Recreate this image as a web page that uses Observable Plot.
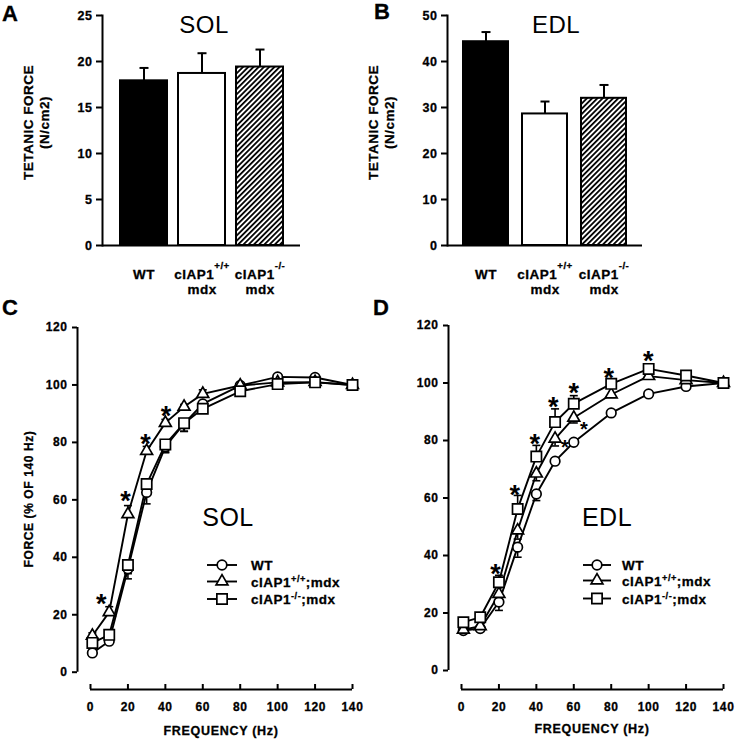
<!DOCTYPE html>
<html>
<head>
<meta charset="utf-8">
<script src="https://cdn.jsdelivr.net/npm/d3@7"></script>
<script src="https://cdn.jsdelivr.net/npm/@observablehq/plot@0.6"></script>
<style>
html, body { margin: 0; padding: 0; background: #fff; }
#fig { position: relative; width: 735px; height: 739px; overflow: hidden; background: #fff; }
#fig g[aria-label$="tick label"] text { letter-spacing: 0.6px; stroke: black; stroke-width: 0.3px; }
#fig text.heavy { stroke: black; stroke-width: 0.3px; }
</style>
</head>
<body>
<div id="fig"></div>
<script>
// ---------------- DATA ----------------
// Panels A & B: tetanic force (N/cm2), mean and upward SEM
const barGroups = ["WT", "cIAP1+/+ mdx", "cIAP1-/- mdx"];
const barLabels = ["WT", "cIAP1^{+/+}\nmdx", "cIAP1^{-/-}\nmdx"];
const solTetanic = [17.9, 18.7, 19.4];
const solTetanicSem = [1.4, 2.2, 1.9];
const edlTetanic = [44.3, 28.6, 32.0];
const edlTetanicSem = [2.1, 2.7, 2.9];
const solBarTicks = [0, 5, 10, 15, 20, 25];
const edlBarTicks = [0, 10, 20, 30, 40, 50];

// Panels C & D: force-frequency (% of 140 Hz)
const freqs = [1, 10, 20, 30, 40, 50, 60, 80, 100, 120, 140];
const freqTicks = [0, 20, 40, 60, 80, 100, 120, 140];
const forceTicks = [0, 20, 40, 60, 80, 100, 120];
const legendItems = ["WT", "cIAP1^{+/+};mdx", "cIAP1^{-/-};mdx"];

const solWT     = [6.7, 10.8, 36.0, 62.6, 78.5, 86.5, 93.4, 99.8, 102.8, 102.6, 100];
const solWTSem  = [0.8, 0.8, 3.5, 4.0, 1.8, 2.6, 1.2, 0.6, 0.6, 0.6, 0];
const solTri    = [12.7, 20.9, 55.0, 77.0, 86.8, 92.4, 96.9, 99.8, 100.9, 101.0, 100];
const solTriSem = [1.0, 1.9, 3.0, 1.6, 1.2, 0.8, 1.4, 0.6, 0.6, 0.6, 0];
const solSq     = [10.2, 13.0, 37.3, 65.5, 79.3, 86.7, 91.7, 97.8, 100.3, 100.9, 100];
const solSqSem  = [1.0, 1.0, 3.0, 2.5, 2.9, 2.9, 1.0, 0.8, 0.6, 0.6, 0];

const edlWT     = [13.9, 14.6, 23.8, 42.9, 61.4, 72.8, 79.4, 89.6, 96.2, 98.8, 100];
const edlWTSem  = [0.8, 1.0, 2.9, 3.5, 2.3, 1.0, 1.0, 0.8, 0.8, 0.6, 0];
const edlTri    = [14.2, 15.4, 26.6, 48.7, 68.5, 80.6, 87.9, 96.0, 102.4, 101.0, 100];
const edlTriSem = [1.0, 1.0, 2.0, 3.0, 2.5, 2.5, 1.8, 1.0, 0.8, 0.6, 0];
const edlSq     = [16.8, 18.5, 30.7, 56.2, 74.4, 86.4, 92.8, 99.7, 104.9, 102.6, 100];
const edlSqSem  = [0.8, 1.0, 2.4, 4.7, 3.9, 4.6, 2.8, 1.0, 1.0, 0.8, 0];

// significance asterisks (frequency, % value)
const solStarF = [5.7, 18.7, 29.4, 40.4];
const solStarV = [26.1, 62.0, 81.7, 91.6];
const edlStarF = [18.2, 28.5, 39.2, 49.0, 60.0, 78.7, 99.8];
const edlStarV = [35.9, 63.2, 81.2, 94.1, 98.8, 104.0, 109.8];
const edlSmallStarF = [55.2, 65.4];
const edlSmallStarV = [79.4, 85.6];

// ---------------- STYLES ----------------
const FONT = "'Liberation Sans', Arial, Helvetica, sans-serif";
const barFills = ["black", "white", "url(#hatch)"];
const seriesSymbols = ["circle", "triangle", "square"];
const seriesRadius = [4.8, 4.4, 5.8];
const plotStyle = `font-family:${FONT};font-weight:bold;color:black;background:transparent;overflow:visible;`;
const capBar = {draw(ctx) { ctx.moveTo(-4.5, 0); ctx.lineTo(4.5, 0); }};
const capCurve = {draw(ctx) { ctx.moveTo(-4, 0); ctx.lineTo(4, 0); }};
const svgNS = "http://www.w3.org/2000/svg";
const fig = document.getElementById("fig");

// hatch pattern definition
fig.insertAdjacentHTML("beforeend",
  `<svg width="0" height="0" style="position:absolute;left:0;top:0">
     <defs>
       <pattern id="hatch" patternUnits="userSpaceOnUse" width="3.7" height="3.7" patternTransform="rotate(45)">
         <rect width="3.7" height="3.7" fill="white"></rect>
         <line x1="0.9" y1="0" x2="0.9" y2="3.7" stroke="black" stroke-width="1.8"></line>
       </pattern>
     </defs>
   </svg>`);

function supify(root, shiftEm, sizePct) {
  const nodes = [];
  const walker = document.createTreeWalker(root, NodeFilter.SHOW_TEXT);
  while (walker.nextNode()) if (walker.currentNode.nodeValue.includes("^{")) nodes.push(walker.currentNode);
  for (const tn of nodes) {
    const parts = tn.nodeValue.split(/\^\{([^}]*)\}/);
    const frag = document.createDocumentFragment();
    parts.forEach((p, i) => {
      if (!p) return;
      if (i % 2 === 0) frag.appendChild(document.createTextNode(p));
      else {
        const t = document.createElementNS(svgNS, "tspan");
        t.setAttribute("style", `font-size:${sizePct}%;baseline-shift:${shiftEm}em`);
        t.textContent = p;
        frag.appendChild(t);
      }
    });
    tn.parentNode.replaceChild(frag, tn);
  }
}

function place(el, left, top) {
  el.style.position = "absolute";
  el.style.left = left + "px";
  el.style.top = top + "px";
  fig.appendChild(el);
}

function barPanel(o) {
  const rows = barGroups.map((g, i) => ({
    group: g, label: barLabels[i], value: o.values[i], top: o.values[i] + o.sems[i], fill: barFills[i]
  }));
  const chart = Plot.plot({
    width: o.width, height: 300,
    marginLeft: o.ml, marginRight: o.mr, marginTop: 15, marginBottom: 55,
    style: plotStyle,
    x: {domain: barGroups, paddingInner: o.padIn, paddingOuter: o.padOut, label: null, axis: null},
    y: {domain: [0, o.yMax], label: null},
    color: {type: "identity"},
    marks: [
      Plot.ruleX(rows, {x: "group", y1: "value", y2: "top", stroke: "black", strokeWidth: 2}),
      Plot.dot(rows, {x: "group", y: "top", symbol: capBar, fill: "none", stroke: "black", strokeWidth: 2}),
      Plot.barY(rows, {x: "group", y: "value", fill: "fill", stroke: "black", strokeWidth: 2}),
      Plot.ruleY([0], {stroke: "black", strokeWidth: 2}),
      Plot.frame({anchor: "left", stroke: "black", strokeWidth: 2}),
      Plot.axisY({ticks: o.ticks, tickSize: 6, tickPadding: 4, strokeWidth: 2, fontSize: 12.5, label: null}),
      // category labels under the bars (x axis tick labels)
      Plot.text(rows, {x: "group", text: "label", frameAnchor: "bottom", lineAnchor: "top",
        lineHeight: 1.15, dy: 22, fontSize: 13.5, fontWeight: "bold", className: "catlabel"})
    ]
  });
  chart.querySelectorAll("text").forEach(t => {
    if (t.closest("g") && t.closest("g").getAttribute("aria-label") === "text") {
      t.classList.add("heavy");
      t.setAttribute("letter-spacing", "0.5");
    }
  });
  supify(chart, 1.0, 72);
  place(chart, o.left, o.top);
}

function curvePanel(o) {
  const rows = [], errs = [];
  o.series.forEach((s, k) => {
    freqs.forEach((f, i) => {
      rows.push({k, f, v: s.values[i]});
      if (s.sems[i] > 0) errs.push({f, v: s.values[i], end: s.values[i] + o.dirs[k] * s.sems[i]});
    });
  });
  const stars = o.starF.map((f, i) => ({f, v: o.starV[i]}));
  const small = (o.smallF || []).map((f, i) => ({f, v: o.smallV[i]}));
  const chart = Plot.plot({
    width: o.width, height: 439,
    marginLeft: o.ml, marginRight: o.mr, marginTop: o.mt, marginBottom: o.mb,
    style: plotStyle,
    x: {domain: [0, 140], label: null},
    y: {domain: [0, 120], label: null},
    marks: [
      Plot.line(rows, {x: "f", y: "v", z: "k", stroke: "black", strokeWidth: 1.9}),
      Plot.ruleX(errs, {x: "f", y1: "v", y2: "end", stroke: "black", strokeWidth: 1.6}),
      Plot.dot(errs, {x: "f", y: "end", symbol: capCurve, fill: "none", stroke: "black", strokeWidth: 1.6}),
      ...[0, 1, 2].map(k => Plot.dot(rows.filter(d => d.k === k), {
        x: "f", y: "v", symbol: seriesSymbols[k], r: seriesRadius[k],
        fill: "white", stroke: "black", strokeWidth: 1.7
      })),
      Plot.text(stars, {x: "f", y: "v", text: () => "*", fontSize: 27, fontWeight: "bold", lineAnchor: "middle", dy: 7}),
      Plot.text(small, {x: "f", y: "v", text: () => "*", fontSize: 20, fontWeight: "bold", lineAnchor: "middle", dy: 5}),
      Plot.ruleY([0], {dy: o.lineDy, stroke: "black", strokeWidth: 2}),
      Plot.axisX({ticks: freqTicks, tickSize: 5, dy: o.tickDy, tickPadding: 13, strokeWidth: 2, fontSize: 12, label: null}),
      Plot.ruleX([0], {dx: -13, stroke: "black", strokeWidth: 2}),
      Plot.axisY({ticks: forceTicks, tickSize: 5, dx: -13, tickPadding: 5, strokeWidth: 2, fontSize: 12, label: null})
    ]
  });
  place(chart, o.left, o.top);
}

barPanel({values: solTetanic, sems: solTetanicSem, yMax: 25, ticks: solBarTicks,
  width: 370, ml: 102, mr: 70, padIn: 0.19, padOut: 0.29, left: 0, top: 0});
barPanel({values: edlTetanic, sems: edlTetanicSem, yMax: 50, ticks: edlBarTicks,
  width: 365, ml: 77, mr: 93, padIn: 0.23, padOut: 0.26, left: 370, top: 0});

curvePanel({
  series: [{values: solWT, sems: solWTSem}, {values: solTri, sems: solTriSem}, {values: solSq, sems: solSqSem}],
  dirs: [-1, 1, -1], starF: solStarF, starV: solStarV,
  width: 370, ml: 90, mr: 18, mt: 27, mb: 67.3, lineDy: 17.3, tickDy: 12.3, left: 0, top: 300
});
curvePanel({
  series: [{values: edlWT, sems: edlWTSem}, {values: edlTri, sems: edlTriSem}, {values: edlSq, sems: edlSqSem}],
  dirs: [-1, -1, 1], starF: edlStarF, starV: edlStarV, smallF: edlSmallStarF, smallV: edlSmallStarV,
  width: 365, ml: 91, mr: 12, mt: 25, mb: 69, lineDy: 19, tickDy: 14, left: 370, top: 300
});

// ---------------- ANNOTATIONS (panel letters, titles, axis titles, legends) ----------------
const ov = d3.create("svg").attr("width", 735).attr("height", 739)
  .style("position", "absolute").style("left", "0px").style("top", "0px")
  .style("font-family", FONT).style("overflow", "visible");

function label(x, y, text, {size = 12, weight = "bold", anchor = "start", rotate = 0, ls = 0} = {}) {
  ov.append("text")
    .attr("class", weight === "bold" ? "heavy" : null)
    .attr("transform", `translate(${x},${y})` + (rotate ? ` rotate(${rotate})` : ""))
    .attr("text-anchor", anchor)
    .attr("font-size", size).attr("font-weight", weight)
    .attr("letter-spacing", ls)
    .attr("fill", "black")
    .text(text);
}

[["A", 2, 20.5], ["B", 374, 18.5], ["C", 2, 315], ["D", 373, 315]]
  .forEach(([t, x, y]) => label(x, y, t, {size: 22}));

label(204, 33, "SOL", {size: 24, weight: "normal", anchor: "middle", ls: 0.5});
label(556, 32.5, "EDL", {size: 24, weight: "normal", anchor: "middle", ls: 0.5});
label(228, 526, "SOL", {size: 25, weight: "normal", anchor: "middle", ls: 0.5});
label(607, 526, "EDL", {size: 25, weight: "normal", anchor: "middle", ls: 0.5});

label(32.5, 122.5, "TETANIC FORCE", {size: 13.5, anchor: "middle", rotate: -90, ls: 0.5});
label(48.5, 122.5, "(N/cm2)", {size: 13.5, anchor: "middle", rotate: -90, ls: 0.5});
label(377.5, 122.5, "TETANIC FORCE", {size: 13.5, anchor: "middle", rotate: -90, ls: 0.5});
label(393.5, 122.5, "(N/cm2)", {size: 13.5, anchor: "middle", rotate: -90, ls: 0.5});
label(32.5, 499, "FORCE (% OF 140 Hz)", {size: 12, anchor: "middle", rotate: -90, ls: 0.6});
label(221, 734.5, "FREQUENCY (Hz)", {size: 12.5, anchor: "middle", ls: 0.7});
label(592, 733, "FREQUENCY (Hz)", {size: 12.5, anchor: "middle", ls: 0.7});

function legend(x0, x1, xm, xt, rowsY) {
  legendItems.forEach((t, k) => {
    const y = rowsY[k];
    ov.append("line").attr("x1", x0).attr("x2", x1).attr("y1", y).attr("y2", y)
      .attr("stroke", "black").attr("stroke-width", 1.9);
    const r = seriesRadius[k];
    if (seriesSymbols[k] === "circle") {
      ov.append("circle").attr("cx", xm).attr("cy", y).attr("r", r)
        .attr("fill", "white").attr("stroke", "black").attr("stroke-width", 1.7);
    } else {
      const type = seriesSymbols[k] === "triangle" ? d3.symbolTriangle : d3.symbolSquare;
      ov.append("path").attr("transform", `translate(${xm},${y})`)
        .attr("d", d3.symbol(type, Math.PI * r * r)())
        .attr("fill", "white").attr("stroke", "black").attr("stroke-width", 1.7);
    }
    label(xt, y + 5, t, {size: 13.5, ls: 0.5});
  });
}
legend(207, 237, 222, 251, [565, 581.5, 599]);
legend(583, 611, 597, 622, [565, 580.5, 598.5]);

supify(ov.node(), 0.55, 68);
fig.appendChild(ov.node());
</script>
</body>
</html>
